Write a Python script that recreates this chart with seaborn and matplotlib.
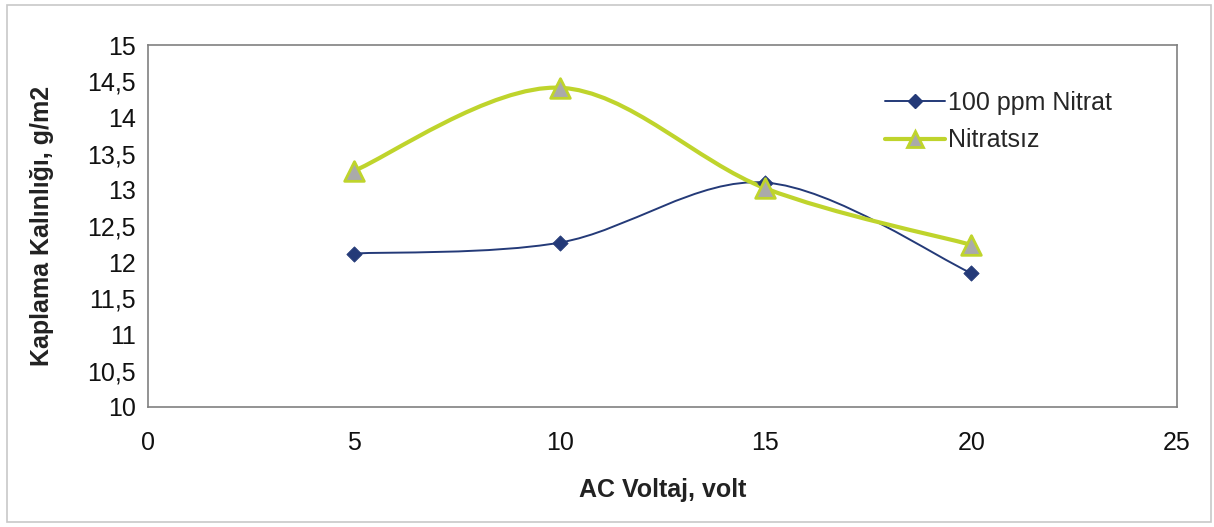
import numpy as np
import pandas as pd
import matplotlib
matplotlib.use("Agg")
import matplotlib.pyplot as plt
from matplotlib.path import Path
from matplotlib.patches import PathPatch, Rectangle
from matplotlib.lines import Line2D
from matplotlib.ticker import FuncFormatter, MultipleLocator
import seaborn as sns

# values
voltaj = [5, 10, 15, 20]
nitrat_100ppm = [12.12, 12.27, 13.10, 11.85]
nitratsiz = [13.26, 14.41, 13.02, 12.24]
series_names = ["100 ppm Nitrat", "Nitratsız"]

sns.set_style("white")
plt.rcParams["font.family"] = ["Liberation Sans", "DejaVu Sans"]

df = pd.DataFrame({
    "voltaj": voltaj * 2,
    "kalinlik": nitrat_100ppm + nitratsiz,
    "seri": [series_names[0]] * len(voltaj) + [series_names[1]] * len(voltaj),
})

blue = "#243a78"
green = "#bfd42c"


def smooth_path(xs, ys):
    # Excel-like smoothed line: cubic bezier through the points
    pts = np.column_stack([xs, ys]).astype(float)
    ext = np.vstack([pts[0], pts, pts[-1]])
    verts = [pts[0]]
    codes = [Path.MOVETO]
    for i in range(len(pts) - 1):
        p0, p1, p2, p3 = ext[i], ext[i + 1], ext[i + 2], ext[i + 3]
        verts += [p1 + (p2 - p0) / 6, p2 - (p3 - p1) / 6, p2]
        codes += [Path.CURVE4] * 3
    return Path(verts, codes)


fig = plt.figure(figsize=(12.14, 5.27), dpi=100)
ax = fig.add_axes([148 / 1214, 1 - 407 / 527, (1177 - 148) / 1214, (407 - 45) / 527])

# outer chart border
fig.patches.append(Rectangle((7 / 1214, 5 / 527), 1204 / 1214, 517 / 527,
                             transform=fig.transFigure, fill=False,
                             edgecolor="#c8c8c8", lw=1.2))

ax.add_patch(PathPatch(smooth_path(voltaj, nitrat_100ppm), fill=False,
                       edgecolor=blue, lw=1.4, zorder=2))
ax.add_patch(PathPatch(smooth_path(voltaj, nitratsiz), fill=False,
                       edgecolor=green, lw=3.0, zorder=2))

sns.scatterplot(data=df[df["seri"] == series_names[0]], x="voltaj", y="kalinlik",
                marker="D", s=60, color=blue, edgecolor=blue, ax=ax, zorder=3, legend=False)
sns.scatterplot(data=df[df["seri"] == series_names[1]], x="voltaj", y="kalinlik",
                marker="^", s=200, color="#aaaaaa", edgecolor=green, linewidth=2,
                ax=ax, zorder=3, legend=False)

ax.set_xlim(0, 25)
ax.set_ylim(10, 15)
ax.xaxis.set_major_locator(MultipleLocator(5))
ax.yaxis.set_major_locator(MultipleLocator(0.5))
fmt = FuncFormatter(lambda v, p: ("%g" % v).replace(".", ","))
ax.xaxis.set_major_formatter(fmt)
ax.yaxis.set_major_formatter(fmt)
ax.tick_params(axis="both", direction="out", length=5, width=1, color="#888888",
               labelsize=18, labelcolor="#111111")
ax.tick_params(axis="x", pad=12)
ax.tick_params(axis="y", pad=4)
for sp in ax.spines.values():
    sp.set_color("#808080")
    sp.set_linewidth(1.2)

ax.set_xlabel("AC Voltaj, volt", fontsize=18, fontweight="bold", color="#222222", labelpad=17)
ax.set_ylabel("Kaplama Kalınlığı, g/m2", fontsize=18, fontweight="bold", color="#222222", labelpad=24)

handles = [
    Line2D([], [], color=blue, lw=1.4, marker="D", markersize=7,
           markerfacecolor=blue, markeredgecolor=blue),
    Line2D([], [], color=green, lw=3.0, marker="^", markersize=12,
           markerfacecolor="#aaaaaa", markeredgecolor=green, markeredgewidth=2),
]
leg = ax.legend(handles, series_names, loc="upper left",
                bbox_to_anchor=((862 - 148) / 1029, 1 - (68 - 45) / 362),
                frameon=False, fontsize=18, handlelength=2.4, handletextpad=0.15,
                labelspacing=0.55)

fig.savefig("out.png", dpi=100)
